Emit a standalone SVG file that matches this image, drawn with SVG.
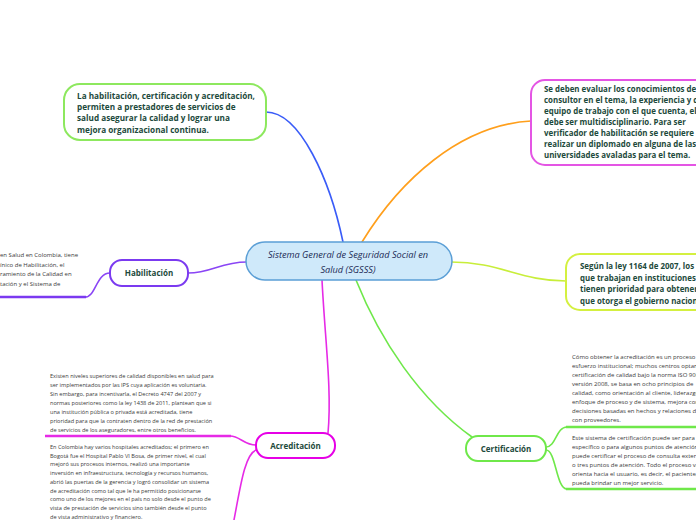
<svg xmlns="http://www.w3.org/2000/svg" width="696" height="520" viewBox="0 0 696 520">
<style>
.node{fill:#fff;stroke-width:2}
.bt{font-family:"Open Sans","Noto Sans",sans-serif;font-weight:bold;font-size:8.2px;fill:#1d4a3c}
.bt2{font-family:"Open Sans","Noto Sans",sans-serif;font-weight:bold;font-size:7.9px;fill:#1d4a3c}
.lbl{font-family:"Open Sans","Noto Sans",sans-serif;font-weight:bold;font-size:8px;fill:#1d4a3c;text-anchor:middle}
.ct{font-family:"Open Sans","Noto Sans",sans-serif;font-style:italic;font-size:9.2px;fill:#1c2a55;text-anchor:middle}
.sm{font-family:"Open Sans","Noto Sans",sans-serif;font-size:5.6px;fill:#3a3a3a}
.sm2{font-family:"Open Sans","Noto Sans",sans-serif;font-size:6px;fill:#3a3a3a}
.c{fill:none;stroke-width:1.6;stroke-linecap:round}
</style>
<rect width="696" height="520" fill="#fff"/>
<g id="connectors">
<path class="c" stroke="#3a5cf8" d="M266,112 C300,112 330,180 343,242"/>
<path class="c" stroke="#ff9f1c" d="M362,242 C400,180 460,125 531,121"/>
<path class="c" stroke="#c8ee3a" d="M451,262 C500,262 520,281 566,281"/>
<path class="c" stroke="#6fe84a" d="M356,280 C380,340 420,400 472,437"/>
<path class="c" stroke="#e62ae6" d="M322,280 C325,340 332,390 328,433"/>
<path class="c" stroke="#8a45f5" d="M247,262 C220,262 212,273 188,273"/>
<path class="c" stroke="#8a45f5" d="M110,273 C96,273 96,297 85,297"/>
<path stroke="#7b3af0" stroke-width="2.4" d="M0,297 L86,297"/>
<path class="c" stroke="#e62ae6" d="M256,445 C244,445 240,436 230,436"/>
<path stroke="#e62ae6" stroke-width="2.4" d="M45,436 L231,436"/>
<path class="c" stroke="#e62ae6" d="M256,450 C244,455 240,490 233,525"/>
<path class="c" stroke="#6fe84a" d="M546,447 C556,447 556,427 567,427"/>
<path stroke="#6fe84a" stroke-width="2.4" d="M566,427 L696,427"/>
<path class="c" stroke="#6fe84a" d="M546,450 C556,450 556,489 567,489"/>
<path stroke="#6fe84a" stroke-width="2.4" d="M566,489 L696,489"/>
</g>
<g id="center">
<rect x="246" y="242" width="206" height="38" rx="19" fill="#cfe9fa" stroke="#5b9fd6" stroke-width="1.5"/>
<text class="ct" x="348" y="257.5">Sistema General de Seguridad Social en</text>
<text class="ct" x="348" y="273">Salud (SGSSS)</text>
</g>
<g id="n-mejora">
<rect class="node" x="64" y="84" width="202" height="56" rx="16" stroke="#8de85e"/>
<text class="bt" x="77" y="99">La habilitación, certificación y acreditación,</text>
<text class="bt" x="77" y="110">permiten a prestadores de servicios de</text>
<text class="bt" x="77" y="121">salud asegurar la calidad y lograr una</text>
<text class="bt" x="77" y="132.5">mejora organizacional continua.</text>
</g>
<g id="n-consultor">
<rect class="node" x="531" y="80" width="200" height="85" rx="14" stroke="#e455e4"/>
<text class="bt2" x="544" y="92">Se deben evaluar los conocimientos del</text>
<text class="bt2" x="544" y="103">consultor en el tema, la experiencia y del</text>
<text class="bt2" x="544" y="114">equipo de trabajo con el que cuenta, el</text>
<text class="bt2" x="544" y="125">debe ser multidisciplinario. Para ser</text>
<text class="bt2" x="544" y="136">verificador de habilitación se requiere</text>
<text class="bt2" x="544" y="147">realizar un diplomado en alguna de las</text>
<text class="bt2" x="544" y="158">universidades avaladas para el tema.</text>
</g>
<g id="n-ley">
<rect class="node" x="566" y="254" width="170" height="56" rx="14" stroke="#d4f040"/>
<text class="bt2" x="580" y="269">Según la ley 1164 de 2007, los</text>
<text class="bt2" x="580" y="280.5">que trabajan en instituciones</text>
<text class="bt2" x="580" y="292">tienen prioridad para obtener</text>
<text class="bt2" x="580" y="303.5">que otorga el gobierno nacional</text>
</g>
<g id="n-habilitacion">
<rect class="node" x="110" y="260" width="78" height="26" rx="12" stroke="#7b3af0"/>
<text class="lbl" x="149" y="276">Habilitación</text>
</g>
<g id="t-habilitacion">
<text class="sm2" x="0" y="257">en Salud en Colombia, tiene</text>
<text class="sm2" x="0" y="266.5">ínico de Habilitación, el</text>
<text class="sm2" x="0" y="276">ramiento de la Calidad en</text>
<text class="sm2" x="0" y="285.5">tación y el Sistema de</text>
</g>
<g id="n-acreditacion">
<rect class="node" x="256" y="433" width="79" height="25" rx="12" stroke="#e600e6"/>
<text class="lbl" x="295.5" y="448.5">Acreditación</text>
</g>
<g id="t-acred1">
<text class="sm" x="50" y="378">Existen niveles superiores de calidad disponibles en salud para</text>
<text class="sm" x="50" y="387">ser implementados por las IPS cuya aplicación es voluntaria.</text>
<text class="sm" x="50" y="396">Sin embargo, para incentivarla, el Decreto 4747 del 2007 y</text>
<text class="sm" x="50" y="405">normas posteriores como la ley 1438 de 2011, plantean que si</text>
<text class="sm" x="50" y="414">una institución pública o privada está acreditada, tiene</text>
<text class="sm" x="50" y="423">prioridad para que la contraten dentro de la red de prestación</text>
<text class="sm" x="50" y="432">de servicios de los aseguradores, entre otros beneficios.</text>
</g>
<g id="t-acred2">
<text class="sm" x="50" y="449">En Colombia hay varios hospitales acreditados; el primero en</text>
<text class="sm" x="50" y="457.7">Bogotá fue el Hospital Pablo VI Bosa, de primer nivel, el cual</text>
<text class="sm" x="50" y="466.4">mejoró sus procesos internos, realizó una importante</text>
<text class="sm" x="50" y="475.1">inversión en infraestructura, tecnología y recursos humanos,</text>
<text class="sm" x="50" y="483.8">abrió las puertas de la gerencia y logró consolidar un sistema</text>
<text class="sm" x="50" y="492.5">de acreditación como tal que le ha permitido posicionarse</text>
<text class="sm" x="50" y="501.2">como uno de los mejores en el país no solo desde el punto de</text>
<text class="sm" x="50" y="509.9">vista de prestación de servicios sino también desde el punto</text>
<text class="sm" x="50" y="518.6">de vista administrativo y financiero.</text>
</g>
<g id="n-certificacion">
<rect class="node" x="466" y="436" width="80" height="25" rx="12" stroke="#6fe84a"/>
<text class="lbl" x="506" y="451.5">Certificación</text>
</g>
<g id="t-cert1">
<text class="sm2" x="572" y="359">Cómo obtener la acreditación es un proceso</text>
<text class="sm2" x="572" y="368">esfuerzo institucional; muchos centros optan</text>
<text class="sm2" x="572" y="377">certificación de calidad bajo la norma ISO 9001</text>
<text class="sm2" x="572" y="386">versión 2008, se basa en ocho principios de</text>
<text class="sm2" x="572" y="395">calidad, como orientación al cliente, liderazgo</text>
<text class="sm2" x="572" y="404">enfoque de proceso y de sistema, mejora continua</text>
<text class="sm2" x="572" y="413">decisiones basadas en hechos y relaciones de</text>
<text class="sm2" x="572" y="422">con proveedores.</text>
</g>
<g id="t-cert2">
<text class="sm2" x="572" y="440">Este sistema de certificación puede ser para</text>
<text class="sm2" x="572" y="449">específico o para algunos puntos de atención</text>
<text class="sm2" x="572" y="458">puede certificar el proceso de consulta externa</text>
<text class="sm2" x="572" y="467">o tres puntos de atención. Todo el proceso va</text>
<text class="sm2" x="572" y="476">orienta hacia el usuario, es decir, el paciente,</text>
<text class="sm2" x="572" y="485">pueda brindar un mejor servicio.</text>
</g>
</svg>
